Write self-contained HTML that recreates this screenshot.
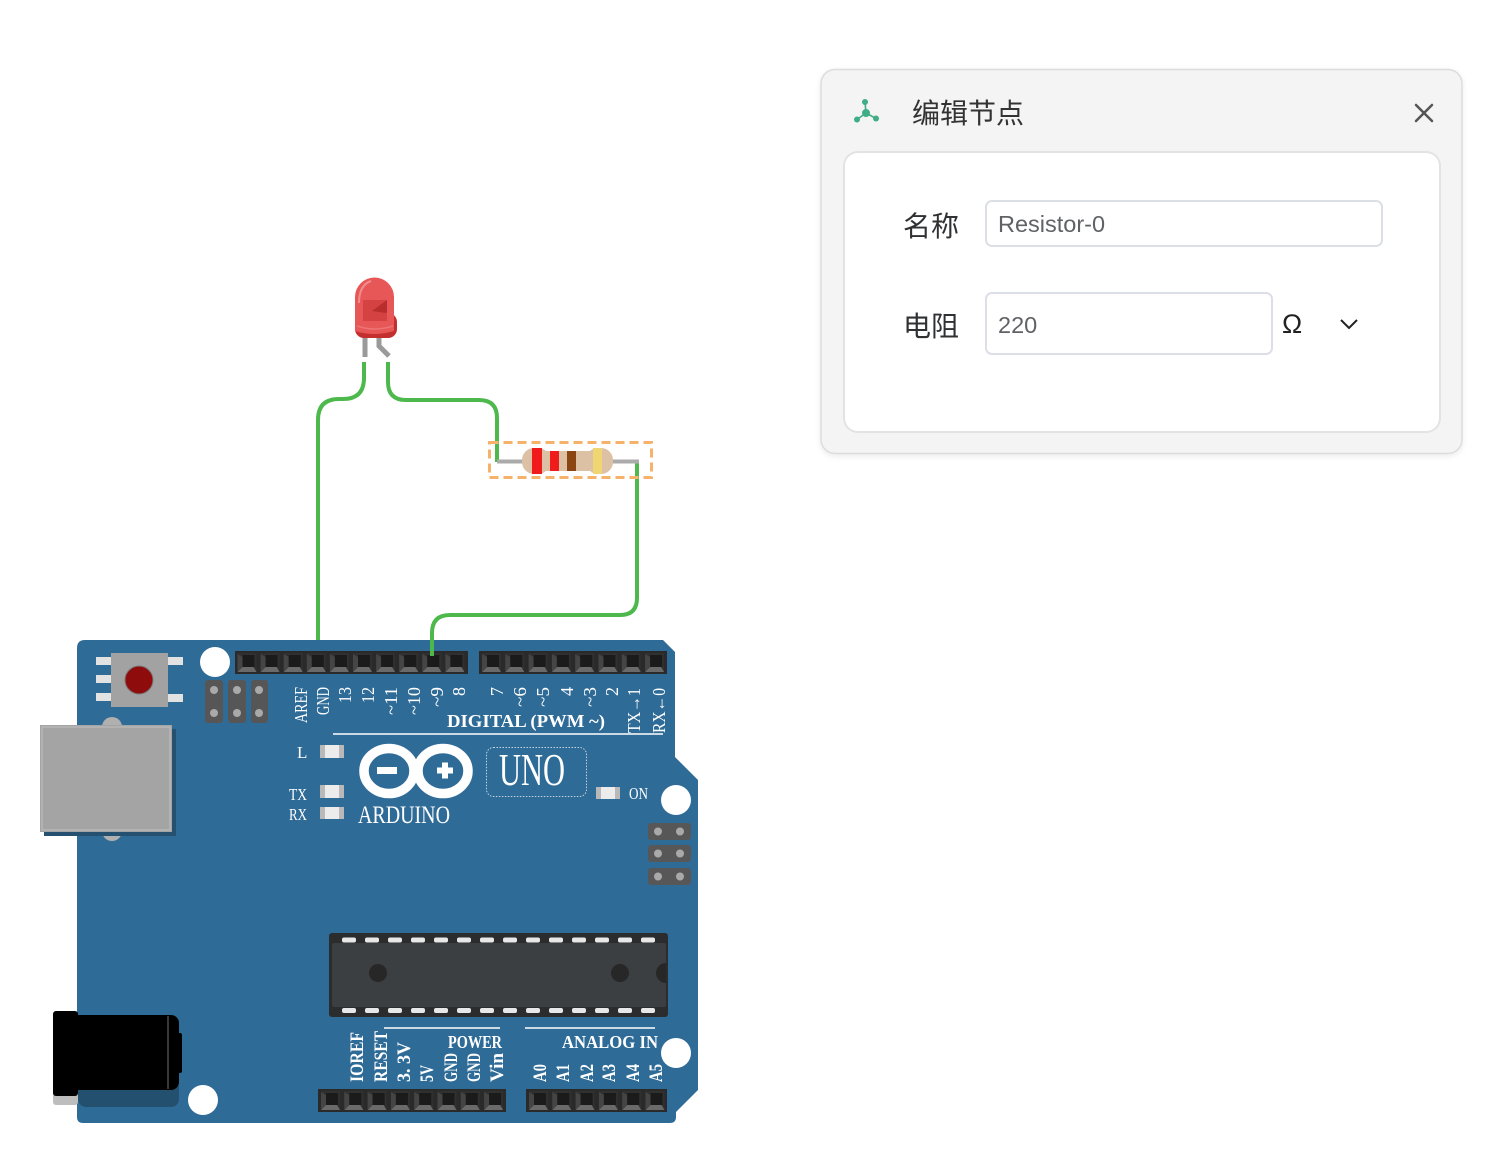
<!DOCTYPE html>
<html><head><meta charset="utf-8"><style>
html,body{margin:0;padding:0;background:#fff;}
svg{display:block}
</style></head><body>
<svg width="1487" height="1169" viewBox="0 0 1487 1169" xmlns="http://www.w3.org/2000/svg">
<defs>
<g id="pin"><rect x="2" y="2" width="19" height="19" fill="#303030"/><polygon points="2,21 21,21 18,16 7,16" fill="#6a6a6a"/><polygon points="2,3 7,6 7,16 2,21" fill="#454545"/><rect x="7" y="4" width="12" height="12" fill="#1b1b1b"/></g>
<filter id="ds" x="-5%" y="-5%" width="110%" height="115%"><feDropShadow dx="0" dy="2" stdDeviation="3" flood-color="#000" flood-opacity="0.08"/></filter>
</defs>

<!-- left wire (below board) -->
<path d="M364,362 V378 Q364,399 343,399 H339 Q318,399 318,420 V641" fill="none" stroke="#4db94d" stroke-width="4"/>

<!-- BOARD -->
<path d="M85,640 H663 L675,652 V757 L698,780 V1090 L676,1112 V1117 Q676,1123 670,1123 H83 Q77,1123 77,1117 V648 Q77,640 85,640 Z" fill="#2f6b97"/>

<!-- reset button -->
<rect x="96" y="657" width="16" height="8" fill="#e2e2e2"/>
<rect x="96" y="675" width="16" height="8" fill="#e2e2e2"/>
<rect x="96" y="693" width="16" height="8" fill="#e2e2e2"/>
<rect x="167" y="657" width="16" height="8" fill="#e2e2e2"/>
<rect x="167" y="694" width="16" height="8" fill="#e2e2e2"/>
<rect x="111" y="653" width="57" height="54" fill="#a2a2a2"/>
<circle cx="139" cy="680" r="14" fill="#8e0c0c" stroke="#7a7a7a" stroke-width="1"/>

<!-- mounting holes -->
<circle cx="215" cy="662" r="15" fill="#fff"/>
<circle cx="676" cy="800" r="15" fill="#fff"/>
<circle cx="676" cy="1053" r="15" fill="#fff"/>
<circle cx="203" cy="1100" r="15" fill="#fff"/>

<!-- left ICSP -->
<g fill="#565656">
<rect x="205" y="680" width="18" height="43" rx="3"/>
<rect x="228" y="680" width="18" height="43" rx="3"/>
<rect x="251" y="680" width="17" height="43" rx="3"/>
</g>
<g fill="#a9a9a9">
<circle cx="214" cy="690" r="4"/><circle cx="214" cy="713" r="4"/>
<circle cx="237" cy="690" r="4"/><circle cx="237" cy="713" r="4"/>
<circle cx="259" cy="690" r="4"/><circle cx="259" cy="713" r="4"/>
</g>

<!-- right ICSP -->
<g fill="#575757">
<rect x="648" y="823" width="43" height="17" rx="3"/>
<rect x="648" y="845" width="43" height="17" rx="3"/>
<rect x="648" y="868" width="43" height="17" rx="3"/>
</g>
<g fill="#a9a9a9">
<circle cx="658" cy="831.5" r="4"/><circle cx="680" cy="831.5" r="4"/>
<circle cx="658" cy="853.5" r="4"/><circle cx="680" cy="853.5" r="4"/>
<circle cx="658" cy="876.5" r="4"/><circle cx="680" cy="876.5" r="4"/>
</g>

<!-- USB -->
<circle cx="112" cy="727" r="10" fill="#b0b0b0"/>
<circle cx="112" cy="831" r="10" fill="#b0b0b0"/>
<rect x="44" y="729" width="132" height="107" fill="#26506f"/>
<rect x="40" y="725" width="132" height="107" fill="#a4a4a4"/>
<rect x="42" y="727" width="128" height="103" fill="none" stroke="#b6b6b6" stroke-width="1.5"/>

<!-- power jack -->
<rect x="53" y="1080" width="25" height="25" rx="3" fill="#bdbdbd"/>
<rect x="78" y="1080" width="101" height="27" rx="8" fill="#24506f"/>
<rect x="70" y="1015" width="109" height="75" rx="8" fill="#000"/>
<rect x="177" y="1033" width="5" height="40" rx="2" fill="#000"/>
<line x1="168" y1="1016" x2="168" y2="1089" stroke="#4a4a4a" stroke-width="1.5"/>
<rect x="53" y="1011" width="25" height="85" rx="3" fill="#000"/>

<!-- headers -->
<rect x="235" y="651" width="233" height="23" fill="#2a2a2a"/>
<rect x="479" y="651" width="188" height="23" fill="#2a2a2a"/>
<rect x="318" y="1089" width="188" height="23" fill="#2a2a2a"/>
<rect x="526" y="1089" width="141" height="23" fill="#2a2a2a"/>
<g>
<use href="#pin" x="235.5" y="651"/><use href="#pin" x="258.6" y="651"/><use href="#pin" x="281.7" y="651"/><use href="#pin" x="304.8" y="651"/><use href="#pin" x="327.9" y="651"/><use href="#pin" x="351" y="651"/><use href="#pin" x="374.1" y="651"/><use href="#pin" x="397.2" y="651"/><use href="#pin" x="420.3" y="651"/><use href="#pin" x="443.4" y="651"/>
<use href="#pin" x="480" y="651"/><use href="#pin" x="503.3" y="651"/><use href="#pin" x="526.6" y="651"/><use href="#pin" x="549.9" y="651"/><use href="#pin" x="573.2" y="651"/><use href="#pin" x="596.5" y="651"/><use href="#pin" x="619.8" y="651"/><use href="#pin" x="643.1" y="651"/>
<use href="#pin" x="319" y="1089"/><use href="#pin" x="342.3" y="1089"/><use href="#pin" x="365.6" y="1089"/><use href="#pin" x="388.9" y="1089"/><use href="#pin" x="412.2" y="1089"/><use href="#pin" x="435.5" y="1089"/><use href="#pin" x="458.8" y="1089"/><use href="#pin" x="482.1" y="1089"/>
<use href="#pin" x="527" y="1089"/><use href="#pin" x="550.3" y="1089"/><use href="#pin" x="573.6" y="1089"/><use href="#pin" x="596.9" y="1089"/><use href="#pin" x="620.2" y="1089"/><use href="#pin" x="643.5" y="1089"/>
</g>

<!-- top labels -->
<g font-family="'Liberation Serif', serif" font-size="18" fill="#fff" text-anchor="end">
<text transform="translate(307,687) rotate(-90)" textLength="36" lengthAdjust="spacingAndGlyphs">AREF</text>
<text transform="translate(329,687) rotate(-90)" textLength="28" lengthAdjust="spacingAndGlyphs">GND</text>
<text transform="translate(351,687) rotate(-90)" textLength="16" lengthAdjust="spacingAndGlyphs">13</text>
<text transform="translate(374,687) rotate(-90)" textLength="16" lengthAdjust="spacingAndGlyphs">12</text>
<text transform="translate(397,687) rotate(-90)" textLength="28" lengthAdjust="spacingAndGlyphs">~11</text>
<text transform="translate(420,687) rotate(-90)" textLength="28" lengthAdjust="spacingAndGlyphs">~10</text>
<text transform="translate(443,687) rotate(-90)" textLength="20" lengthAdjust="spacingAndGlyphs">~9</text>
<text transform="translate(465,687) rotate(-90)">8</text>
<text transform="translate(503,687) rotate(-90)">7</text>
<text transform="translate(526,687) rotate(-90)" textLength="20" lengthAdjust="spacingAndGlyphs">~6</text>
<text transform="translate(549,687) rotate(-90)" textLength="20" lengthAdjust="spacingAndGlyphs">~5</text>
<text transform="translate(573,687) rotate(-90)">4</text>
<text transform="translate(596,687) rotate(-90)" textLength="20" lengthAdjust="spacingAndGlyphs">~3</text>
<text transform="translate(618,687) rotate(-90)">2</text>
<text transform="translate(640,688) rotate(-90)" textLength="45" lengthAdjust="spacingAndGlyphs">TX→1</text>
<text transform="translate(665,688) rotate(-90)" textLength="45" lengthAdjust="spacingAndGlyphs">RX←0</text>
</g>
<text x="447" y="727" font-family="'Liberation Serif', serif" font-weight="bold" font-size="18" fill="#fff" textLength="158" lengthAdjust="spacingAndGlyphs">DIGITAL (PWM ~)</text>
<line x1="333" y1="734" x2="663" y2="734" stroke="#fff" stroke-width="1.5"/>

<!-- small LEDs -->
<g>
<rect x="320" y="745" width="24" height="13" fill="#b9b9b9"/><rect x="325" y="745" width="14" height="13" fill="#ececec"/>
<rect x="320" y="785" width="24" height="13" fill="#b9b9b9"/><rect x="325" y="785" width="14" height="13" fill="#ececec"/>
<rect x="320" y="807" width="24" height="12" fill="#b9b9b9"/><rect x="325" y="807" width="14" height="12" fill="#ececec"/>
<rect x="596" y="787" width="24" height="12" fill="#b9b9b9"/><rect x="601" y="787" width="14" height="12" fill="#ececec"/>
</g>
<g font-family="'Liberation Serif', serif" font-size="17" fill="#fff">
<text x="297" y="758">L</text>
<text x="289" y="800" textLength="18" lengthAdjust="spacingAndGlyphs">TX</text>
<text x="289" y="820" textLength="18" lengthAdjust="spacingAndGlyphs">RX</text>
<text x="629" y="799" textLength="19" lengthAdjust="spacingAndGlyphs">ON</text>
</g>

<!-- Arduino logo -->
<g fill="none" stroke="#fff" stroke-width="9.5">
<ellipse cx="389" cy="771" rx="25" ry="22.5"/>
<ellipse cx="443" cy="771" rx="25" ry="22.5"/>
</g>
<rect x="377" y="767" width="20" height="7" fill="#fff"/>
<rect x="437" y="767.5" width="16" height="6" fill="#fff"/>
<rect x="442" y="762.5" width="6" height="16" fill="#fff"/>
<text x="358" y="823" font-family="'Liberation Serif', serif" font-size="25" fill="#fff" textLength="92" lengthAdjust="spacingAndGlyphs">ARDUINO</text>
<rect x="486.5" y="747.5" width="100" height="49" rx="7" fill="none" stroke="#c6d4e0" stroke-width="1" stroke-dasharray="1.5 1.5"/>
<text x="499" y="785" font-family="'Liberation Serif', serif" font-size="46" fill="#fff" textLength="66" lengthAdjust="spacingAndGlyphs">UNO</text>

<!-- chip -->
<rect x="329" y="933" width="339" height="84" rx="3" fill="#2a2c2e"/>
<rect x="332" y="943" width="334" height="64" rx="2" fill="#3c3f42"/>
<g fill="#e8e8e8">
<rect x="342" y="937.5" width="14" height="5" rx="2"/><rect x="365" y="937.5" width="14" height="5" rx="2"/><rect x="388" y="937.5" width="14" height="5" rx="2"/><rect x="411" y="937.5" width="14" height="5" rx="2"/><rect x="434" y="937.5" width="14" height="5" rx="2"/><rect x="457" y="937.5" width="14" height="5" rx="2"/><rect x="480" y="937.5" width="14" height="5" rx="2"/><rect x="503" y="937.5" width="14" height="5" rx="2"/><rect x="526" y="937.5" width="14" height="5" rx="2"/><rect x="549" y="937.5" width="14" height="5" rx="2"/><rect x="572" y="937.5" width="14" height="5" rx="2"/><rect x="595" y="937.5" width="14" height="5" rx="2"/><rect x="618" y="937.5" width="14" height="5" rx="2"/><rect x="641" y="937.5" width="14" height="5" rx="2"/>
<rect x="342" y="1008" width="14" height="5" rx="2"/><rect x="365" y="1008" width="14" height="5" rx="2"/><rect x="388" y="1008" width="14" height="5" rx="2"/><rect x="411" y="1008" width="14" height="5" rx="2"/><rect x="434" y="1008" width="14" height="5" rx="2"/><rect x="457" y="1008" width="14" height="5" rx="2"/><rect x="480" y="1008" width="14" height="5" rx="2"/><rect x="503" y="1008" width="14" height="5" rx="2"/><rect x="526" y="1008" width="14" height="5" rx="2"/><rect x="549" y="1008" width="14" height="5" rx="2"/><rect x="572" y="1008" width="14" height="5" rx="2"/><rect x="595" y="1008" width="14" height="5" rx="2"/><rect x="618" y="1008" width="14" height="5" rx="2"/><rect x="641" y="1008" width="14" height="5" rx="2"/>
</g>
<circle cx="378" cy="973" r="9" fill="#272727"/>
<circle cx="620" cy="973" r="9" fill="#272727"/>
<path d="M666,963 A10,10 0 0 0 666,983 Z" fill="#272727"/>

<!-- power/analog labels -->
<line x1="384" y1="1028" x2="500" y2="1028" stroke="#fff" stroke-width="1.5"/>
<line x1="525" y1="1028" x2="655" y2="1028" stroke="#fff" stroke-width="1.5"/>
<g font-family="'Liberation Serif', serif" font-weight="bold" font-size="18" fill="#fff">
<text x="448" y="1048" textLength="54" lengthAdjust="spacingAndGlyphs">POWER</text>
<text x="562" y="1048" textLength="96" lengthAdjust="spacingAndGlyphs">ANALOG  IN</text>
</g>
<g font-family="'Liberation Serif', serif" font-weight="bold" font-size="19" fill="#fff">
<text transform="translate(363,1082) rotate(-90)" textLength="50" lengthAdjust="spacingAndGlyphs">IOREF</text>
<text transform="translate(387,1082) rotate(-90)" textLength="51" lengthAdjust="spacingAndGlyphs">RESET</text>
<text transform="translate(410,1082) rotate(-90)" textLength="40" lengthAdjust="spacingAndGlyphs">3. 3V</text>
<text transform="translate(433,1082) rotate(-90)" textLength="17" lengthAdjust="spacingAndGlyphs">5V</text>
<text transform="translate(457,1082) rotate(-90)" textLength="29" lengthAdjust="spacingAndGlyphs">GND</text>
<text transform="translate(480,1082) rotate(-90)" textLength="29" lengthAdjust="spacingAndGlyphs">GND</text>
<text transform="translate(503,1082) rotate(-90)" textLength="29" lengthAdjust="spacingAndGlyphs">Vin</text>
<text transform="translate(546,1082) rotate(-90)" textLength="18" lengthAdjust="spacingAndGlyphs">A0</text>
<text transform="translate(569,1082) rotate(-90)" textLength="18" lengthAdjust="spacingAndGlyphs">A1</text>
<text transform="translate(593,1082) rotate(-90)" textLength="18" lengthAdjust="spacingAndGlyphs">A2</text>
<text transform="translate(615,1082) rotate(-90)" textLength="18" lengthAdjust="spacingAndGlyphs">A3</text>
<text transform="translate(639,1082) rotate(-90)" textLength="18" lengthAdjust="spacingAndGlyphs">A4</text>
<text transform="translate(662,1082) rotate(-90)" textLength="18" lengthAdjust="spacingAndGlyphs">A5</text>
</g>

<!-- wires -->
<path d="M388,362 V382 Q388,400 406,400 H479 Q497,400 497,418 V462" fill="none" stroke="#4db94d" stroke-width="4"/>
<path d="M637,462 V598 Q637,615 620,615 H450 Q432,615 432,633 V656" fill="none" stroke="#4db94d" stroke-width="4"/>

<!-- resistor -->
<line x1="497" y1="461.5" x2="524" y2="461.5" stroke="#ababab" stroke-width="4"/>
<line x1="611" y1="461.5" x2="639" y2="461.5" stroke="#ababab" stroke-width="4"/>
<g fill="#dcc1a4">
<rect x="522" y="448" width="28" height="26" rx="12"/>
<rect x="540" y="451" width="56" height="20"/>
<rect x="586" y="448" width="27" height="26" rx="12"/>
</g>
<rect x="532" y="448" width="10" height="26" fill="#f01c1c"/>
<rect x="550" y="451" width="9" height="20" fill="#f01c1c"/>
<rect x="567" y="451" width="9" height="20" fill="#8b4513"/>
<rect x="593" y="448" width="9" height="26" fill="#efd672"/>
<rect x="489.5" y="442.5" width="162" height="35" fill="none" stroke="#f6b16a" stroke-width="3" stroke-dasharray="9 5"/>

<!-- LED -->
<line x1="365" y1="336" x2="365" y2="357" stroke="#9a9a9a" stroke-width="5"/>
<path d="M379,336 V346 L389,356" stroke="#9a9a9a" stroke-width="5" fill="none"/>
<rect x="355" y="313" width="42" height="25" rx="9" fill="#c32f2f"/>
<path d="M355,331 V297 A19.5,19.5 0 0 1 394,297 V331 Q374.5,337 355,331Z" fill="#e75757"/>
<path d="M363,300 H387 V321 H363Z" fill="#d03e3e" opacity="0.85"/>
<path d="M372,311 L387,300 V313 Z" fill="#b82e2e"/>
<path d="M359,303 Q359,285 371,281" stroke="#f5a3a3" stroke-width="2" fill="none" opacity="0.7"/>
<path d="M357,326 Q375,332 393,326" stroke="#f08080" stroke-width="1.5" fill="none" opacity="0.7"/>

<!-- DIALOG -->
<rect x="821" y="69.5" width="641" height="384" rx="14" fill="#f4f4f4" stroke="#dcdcdc" stroke-width="1.5" filter="url(#ds)"/>
<g stroke="#3fae86" stroke-width="1.6">
<line x1="866" y1="113" x2="865" y2="102"/><line x1="866" y1="113" x2="857" y2="119.5"/><line x1="866" y1="113" x2="876" y2="118.5"/>
</g>
<g fill="#3fae86">
<circle cx="866" cy="113" r="4"/><circle cx="865" cy="102" r="3"/><circle cx="857" cy="119.5" r="3"/><circle cx="876" cy="118.5" r="3"/>
</g>
<text x="912" y="123" font-family="'Liberation Sans', 'Noto Sans CJK SC', sans-serif" font-size="28" fill="#333">编辑节点</text>
<g stroke="#555" stroke-width="2.5" stroke-linecap="round">
<line x1="1416" y1="105" x2="1432" y2="121"/><line x1="1432" y1="105" x2="1416" y2="121"/>
</g>
<rect x="844" y="152" width="596" height="280" rx="14" fill="#fff" stroke="#e3e3e3" stroke-width="2"/>
<g font-family="'Liberation Sans', 'Noto Sans CJK SC', sans-serif">
<text x="903" y="236" font-size="28" fill="#303133">名称</text>
<text x="903" y="336" font-size="28" fill="#303133">电阻</text>
<rect x="986" y="201" width="396" height="45" rx="6" fill="#fff" stroke="#dcdfe6" stroke-width="2"/>
<rect x="986" y="293" width="286" height="61" rx="6" fill="#fff" stroke="#dcdfe6" stroke-width="2"/>
<text x="998" y="232" font-size="23.5" fill="#606266">Resistor-0</text>
<text x="998" y="333" font-size="23.5" fill="#606266">220</text>
<text x="1282" y="333" font-size="27" fill="#222">Ω</text>
</g>
<polyline points="1341,320 1349,328 1357,320" fill="none" stroke="#222" stroke-width="2"/>
</svg>
</body></html>
